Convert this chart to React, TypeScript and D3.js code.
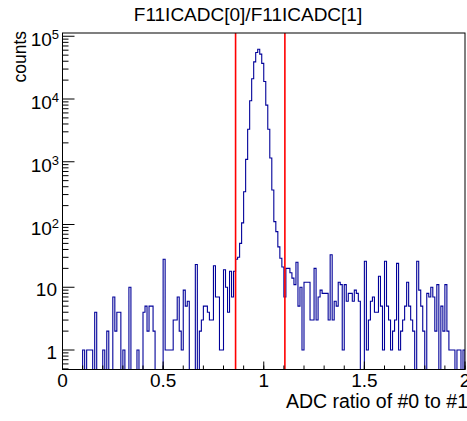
import React from 'react';
import * as d3 from 'd3';

// ---- data ----
const title = 'F11ICADC[0]/F11ICADC[1]';
const xTitle = 'ADC ratio of #0 to #1';
const yTitle = 'counts';
const xMin = 0;
const xMax = 2;
// 200 bins of width 0.01 from 0 to 2
const binCounts = [
  0, 0, 0, 0, 0, 0, 0, 0, 0, 0,
  1, 0, 1, 1, 1, 0, 4, 0, 0, 0,
  1, 0, 2, 0, 0, 7, 2, 4, 4, 0,
  1, 0, 0, 10, 0, 0, 0, 1, 0, 0,
  4, 5, 2, 5, 5, 2, 0, 0, 0, 0,
  28, 1, 1, 1, 1, 3, 3, 7, 2, 1,
  9, 5, 6, 0, 0, 0, 23, 0, 2, 3,
  5, 5, 4, 3, 3, 22, 7, 7, 1, 1,
  19, 10, 4, 18, 7, 18, 28, 30, 50, 106,
  333, 1090, 3300, 9400, 21000, 39000, 55000, 62000, 52000, 37000,
  19000, 8000, 3300, 1150, 355, 111, 77, 44, 29, 21,
  7, 20, 20, 17, 14, 11, 25, 5, 10, 1,
  12, 12, 12, 3, 3, 20, 3, 7, 9, 8,
  8, 8, 3, 33, 3, 6, 5, 12, 11, 1,
  11, 6, 8, 8, 6, 9, 8, 6, 0, 0,
  26, 1, 3, 6, 7, 4, 4, 15, 5, 1,
  26, 5, 3, 1, 2, 3, 24, 1, 2, 3,
  5, 12, 5, 3, 2, 0, 26, 9, 5, 2,
  0, 8, 7, 10, 7, 2, 11, 0, 5, 2,
  11, 2, 1, 1, 1, 0, 1, 1, 0, 1,
];
const cutLines = [0.86, 1.105];
const xMajorTicks = [0, 0.5, 1, 1.5, 2];
const xTickLabels = ['0', '0.5', '1', '1.5', '2'];
const xMinorStep = 0.1;
const yDecades = [1, 10, 100, 1000, 10000, 100000];
const yDecadeBase = ['1', '10', '10', '10', '10', '10'];
const yDecadeExp = ['', '', '2', '3', '4', '5'];
const yMin = 0.489;
const yMax = 112700;

const W = 467;
const H = 421;
const FL = 62.5;
const FR = 465;
const FT = 33;
const FB = 369.5;
const FONT = "'Liberation Sans', Arial, Helvetica, sans-serif";

export default function App() {
  const x = d3.scaleLinear().domain([xMin, xMax]).range([FL, FR]);
  const y = d3.scaleLog().domain([yMin, yMax]).range([FB, FT]);

  const nb = binCounts.length;
  const bw = (xMax - xMin) / nb;
  const p = d3.path();
  p.moveTo(x(xMin), FB);
  binCounts.forEach((c, i) => {
    const yy = c > 0 ? y(c) : FB;
    p.lineTo(x(xMin + i * bw), yy);
    p.lineTo(x(xMin + (i + 1) * bw), yy);
  });
  p.lineTo(x(xMax), FB);

  // minor y ticks
  const yMinor: number[] = [];
  for (let e = -1; e <= 5; e++) {
    for (let d = 2; d <= 9; d++) {
      const v = d * Math.pow(10, e);
      if (v >= yMin && v <= yMax) yMinor.push(v);
    }
  }
  const xMinor: number[] = d3.range(xMin, xMax + 1e-9, xMinorStep);

  return (
    <svg width={W} height={H} style={{ position: 'absolute', left: 0, top: 0, background: '#fff' }}
      fontFamily={FONT}>
      <defs>
        <clipPath id="frame">
          <rect x={FL} y={FT} width={FR - FL} height={FB - FT} />
        </clipPath>
      </defs>
      <rect x={0} y={0} width={W} height={H} fill="#fff" />
      {/* histogram */}
      <path d={p.toString()} fill="none" stroke="#000099" strokeWidth={1.1} clipPath="url(#frame)" />
      {/* cut lines */}
      {cutLines.map((c, i) => (
        <line key={i} x1={x(c)} x2={x(c)} y1={FT} y2={FB} stroke="#ff0000" strokeWidth={1.6} />
      ))}
      {/* frame */}
      <rect x={FL} y={FT} width={FR - FL} height={FB - FT} fill="none" stroke="#000" strokeWidth={1} />
      {/* y ticks */}
      {yDecades.map((v, i) => (
        <line key={'yM' + i} x1={FL} x2={FL + 12} y1={y(v)} y2={y(v)} stroke="#000" strokeWidth={1} />
      ))}
      {yMinor.map((v, i) => (
        <line key={'ym' + i} x1={FL} x2={FL + 6} y1={y(v)} y2={y(v)} stroke="#000" strokeWidth={1} />
      ))}
      {yDecades.map((v, i) =>
        yDecadeExp[i] ? (
          <text key={'yl' + i} x={59} y={y(v) + 10} textAnchor="end" fontSize={19}>
            {yDecadeBase[i]}
            <tspan fontSize={13} dy={-7}>{yDecadeExp[i]}</tspan>
          </text>
        ) : (
          <text key={'yl' + i} x={57} y={y(v) + 9} textAnchor="end" fontSize={19}>
            {yDecadeBase[i]}
          </text>
        )
      )}
      {/* x ticks */}
      {xMinor.map((v, i) => (
        <line key={'xm' + i} x1={x(v)} x2={x(v)} y1={FB} y2={FB - 4} stroke="#000" strokeWidth={1} />
      ))}
      {xMajorTicks.map((v, i) => (
        <line key={'xM' + i} x1={x(v)} x2={x(v)} y1={FB} y2={FB - 8} stroke="#000" strokeWidth={1} />
      ))}
      {xMajorTicks.map((v, i) => (
        <text key={'xl' + i} x={x(v)} y={387} textAnchor="middle" fontSize={19}>
          {xTickLabels[i]}
        </text>
      ))}
      {/* titles */}
      <text x={248} y={21} textAnchor="middle" fontSize={19}>{title}</text>
      <text x={468} y={408} textAnchor="end" fontSize={19.5}>{xTitle}</text>
      <text transform={`translate(25.5, 31) rotate(-90)`} textAnchor="end" fontSize={17.5}>{yTitle}</text>
    </svg>
  );
}
